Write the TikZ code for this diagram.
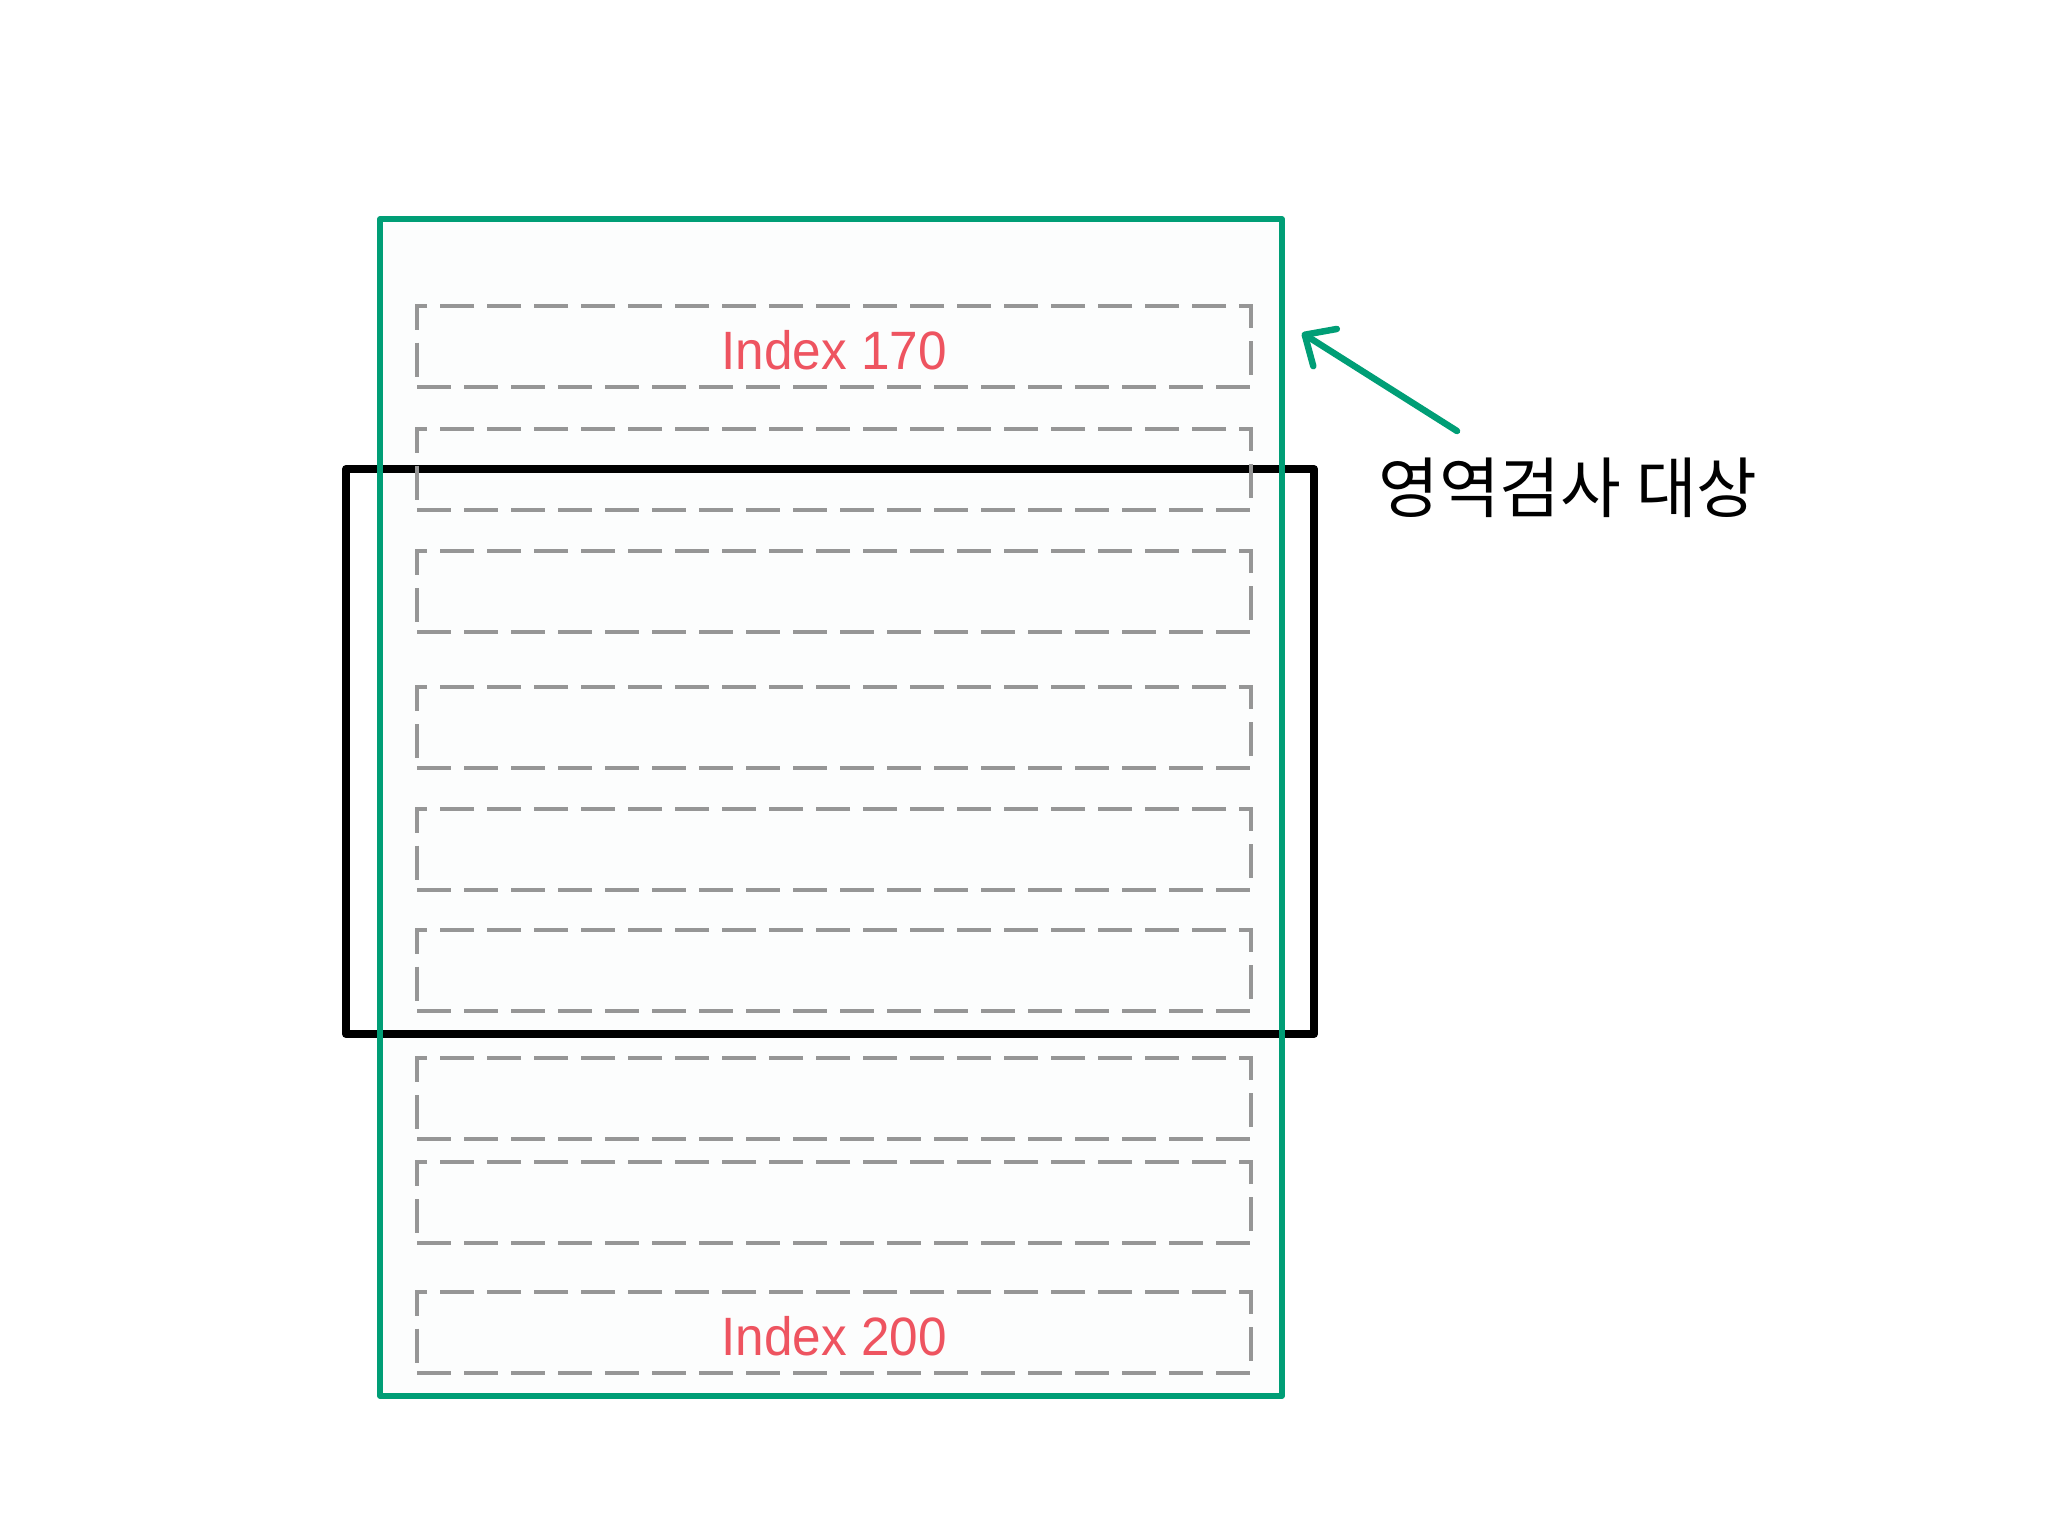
\documentclass[tikz,border=0pt]{standalone}
\usepackage{fontspec}
\setmainfont{Liberation Sans}
\newfontfamily\idxfont[FakeStretch=0.95]{Liberation Sans}
\newfontfamily\krfont{Noto Sans CJK KR}
\usetikzlibrary{arrows.meta}
\definecolor{tealg}{RGB}{0,158,118}
\definecolor{idxred}{RGB}{238,84,96}
\definecolor{dashgray}{RGB}{150,150,150}
\definecolor{panelbg}{RGB}{252,253,253}
\begin{document}
\begin{tikzpicture}[x=0.5pt,y=-0.5pt,
  rowbox/.style={draw=dashgray, line width=2pt, dash pattern=on 17pt off 6.5pt,
    minimum width=417pt, minimum height=40.5pt, inner sep=0pt, outer sep=0pt,
    font=\idxfont\fontsize{27}{30}\selectfont, text=idxred, text height=23.5pt, text depth=0pt},
  panelfill/.style={fill=panelbg, draw=none, minimum width=451pt, minimum height=588.5pt, inner sep=0pt, outer sep=0pt},
  panelline/.style={draw=tealg, line width=2.75pt, line join=round},
  framebox/.style={draw=black, line width=4pt, line join=round, minimum width=484pt, minimum height=282.5pt, inner sep=0pt, outer sep=0pt},
  pointer/.style={draw=tealg, line width=3.25pt, line cap=round, -{Straight Barb[length=12pt,width=22pt,round]}},
  label/.style={font=\krfont\fontsize{33}{36}\selectfont, text=black, inner sep=0pt}
]
\useasboundingbox (0,0) rectangle (2048,1536);
\fill[white] (0,0) rectangle (2048,1536);
\node[panelfill] (panel) at (831,807.5) {};
\node[framebox] (frame) at (830,751.5) {};
\node[rowbox] (r1) at (834,346) {Index 170};
\node[rowbox] (r2) at (834,469) {};
\node[rowbox] (r3) at (834,591.5) {};
\node[rowbox] (r4) at (834,727.5) {};
\node[rowbox] (r5) at (834,849) {};
\node[rowbox] (r6) at (834,970) {};
\node[rowbox] (r7) at (834,1098.5) {};
\node[rowbox] (r8) at (834,1202.5) {};
\node[rowbox] (r9) at (834,1332) {Index 200};
\draw[panelline] (panel.north west) rectangle (panel.south east);
\node[label] (lbl) at (1568,488) {영역검사 대상};
\coordinate (tail) at (1457,431);
\coordinate (tip) at (1302,333);
\draw[pointer] (tail) -- (tip);
\end{tikzpicture}
\end{document}
